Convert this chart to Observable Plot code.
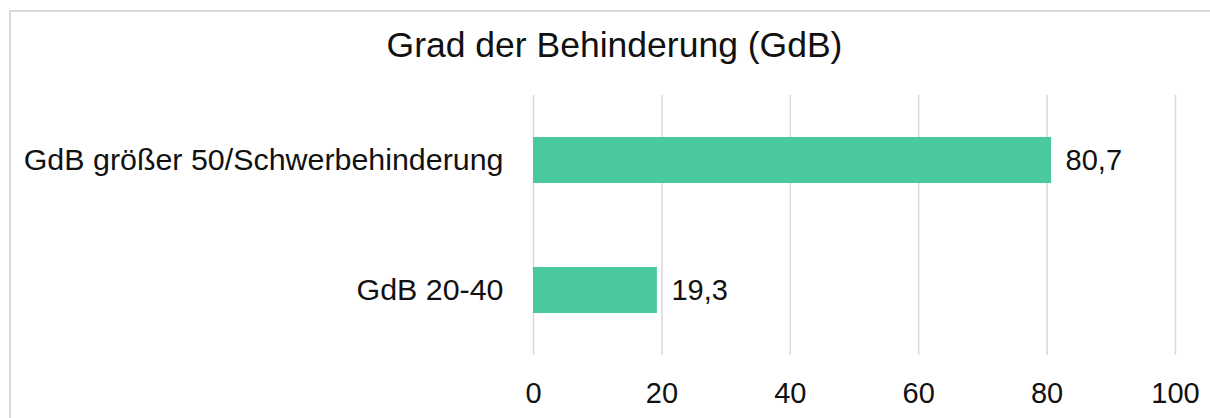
<!DOCTYPE html>
<html>
<head>
<meta charset="utf-8">
<script src="https://cdn.jsdelivr.net/npm/d3@7"></script>
<script src="https://cdn.jsdelivr.net/npm/@observablehq/plot@0.6"></script>
<style>
  html, body { margin: 0; padding: 0; background: #fff; overflow: hidden; width: 1210px; height: 418px; }
  body { position: relative; font-family: "Liberation Sans", Arial, sans-serif; color: #111; }
  #frame { position: absolute; left: 9px; top: 10px; width: 1300px; height: 500px; border: 2px solid #d9d9d9; box-sizing: border-box; }
  #title { position: absolute; left: 0; top: 28px; width: 1229px; text-align: center; font-size: 35.5px; line-height: 35px; white-space: nowrap; }
  #chart { position: absolute; left: 0; top: 0; }
</style>
</head>
<body>
<div id="frame"></div>
<div id="title">Grad der Behinderung (GdB)</div>
<div id="chart"></div>
<script>
const categories = ["GdB größer 50/Schwerbehinderung", "GdB 20-40"];
const values = [80.7, 19.3];
const xTicks = [0, 20, 40, 60, 80, 100];

const data = categories.map((c, i) => ({category: c, value: values[i]}));
const fmt = v => String(v).replace(".", ",");

const chart = Plot.plot({
  width: 1210,
  height: 418,
  marginTop: 95,
  marginBottom: 63,
  marginLeft: 533,
  marginRight: 35,
  style: {fontFamily: "'Liberation Sans', Arial, sans-serif", color: "#111", background: "transparent"},
  x: {domain: [0, 100], ticks: xTicks, label: null},
  y: {domain: categories, paddingInner: 0.65, paddingOuter: 0.32, label: null},
  marks: [
    Plot.ruleX(xTicks, {stroke: "#d9d9d9", strokeWidth: 1.5}),
    Plot.barX(data, {x: "value", y: "category", fill: "#49c99c"}),
    Plot.text(data, {x: "value", y: "category", text: d => fmt(d.value), textAnchor: "start", dx: 14, fontSize: 29, fill: "#111"}),
    Plot.axisX({ticks: xTicks, tickSize: 0, tickPadding: 27, fontSize: 29, label: null}),
    Plot.axisY({tickSize: 0, tickPadding: 30, fontSize: 30.4, label: null})
  ]
});
document.getElementById("chart").appendChild(chart);
</script>
</body>
</html>
